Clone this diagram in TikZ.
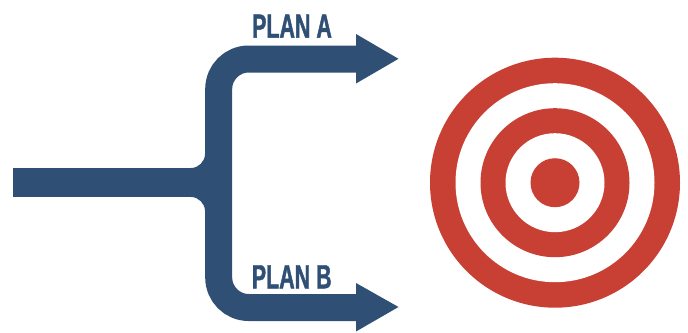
\documentclass[tikz,border=0pt]{standalone}
\usepackage{fontspec}
\newfontfamily\planfont{Liberation Sans}[FakeStretch=0.64,FakeBold=1.2]
\definecolor{planblue}{RGB}{47,79,116}
\definecolor{targetred}{RGB}{200,64,52}
\tikzset{
  plantext/.style={font=\planfont\bfseries\fontsize{33.5}{36}\selectfont, text=planblue, inner sep=0pt, anchor=base},
  ring/.style={fill=#1, draw=none}
}
\begin{document}
\begin{tikzpicture}[x=1pt,y=-1pt]
\useasboundingbox (0,0) rectangle (688,332);
% stem
\fill[planblue] (13,168) rectangle (210,197);
% fillets
\fill[planblue] (191,168) .. controls (198.5,168) and (205,161.5) .. (205,154) -- (210,154) -- (210,168) -- cycle;
\fill[planblue] (191,197) .. controls (198.5,197) and (205,203.5) .. (205,211) -- (210,211) -- (210,197) -- cycle;
% fork
\coordinate (aend) at (358,59);
\coordinate (bend) at (358,307.5);
\draw[planblue, line width=27, rounded corners=30] (aend) -- (218.7,59) -- (218.7,307.5) -- (bend);
% arrowheads
\fill[planblue] (356,34) -- (398.5,58.8) -- (356,83.5) -- cycle;
\fill[planblue] (356,283) -- (398.5,307) -- (356,331.5) -- cycle;
% labels
\node[plantext] (pa) at (292,37.7) {PLAN A};
\node[plantext] (pb) at (291.7,288.3) {PLAN B};
% target
\coordinate (tc) at (555,182.7);
\fill[targetred] (tc) circle (125);
\fill[white] (tc) circle (99.5);
\fill[targetred] (tc) circle (74.5);
\fill[white] (tc) circle (49.5);
\fill[targetred] (tc) circle (24.5);
\end{tikzpicture}
\end{document}
